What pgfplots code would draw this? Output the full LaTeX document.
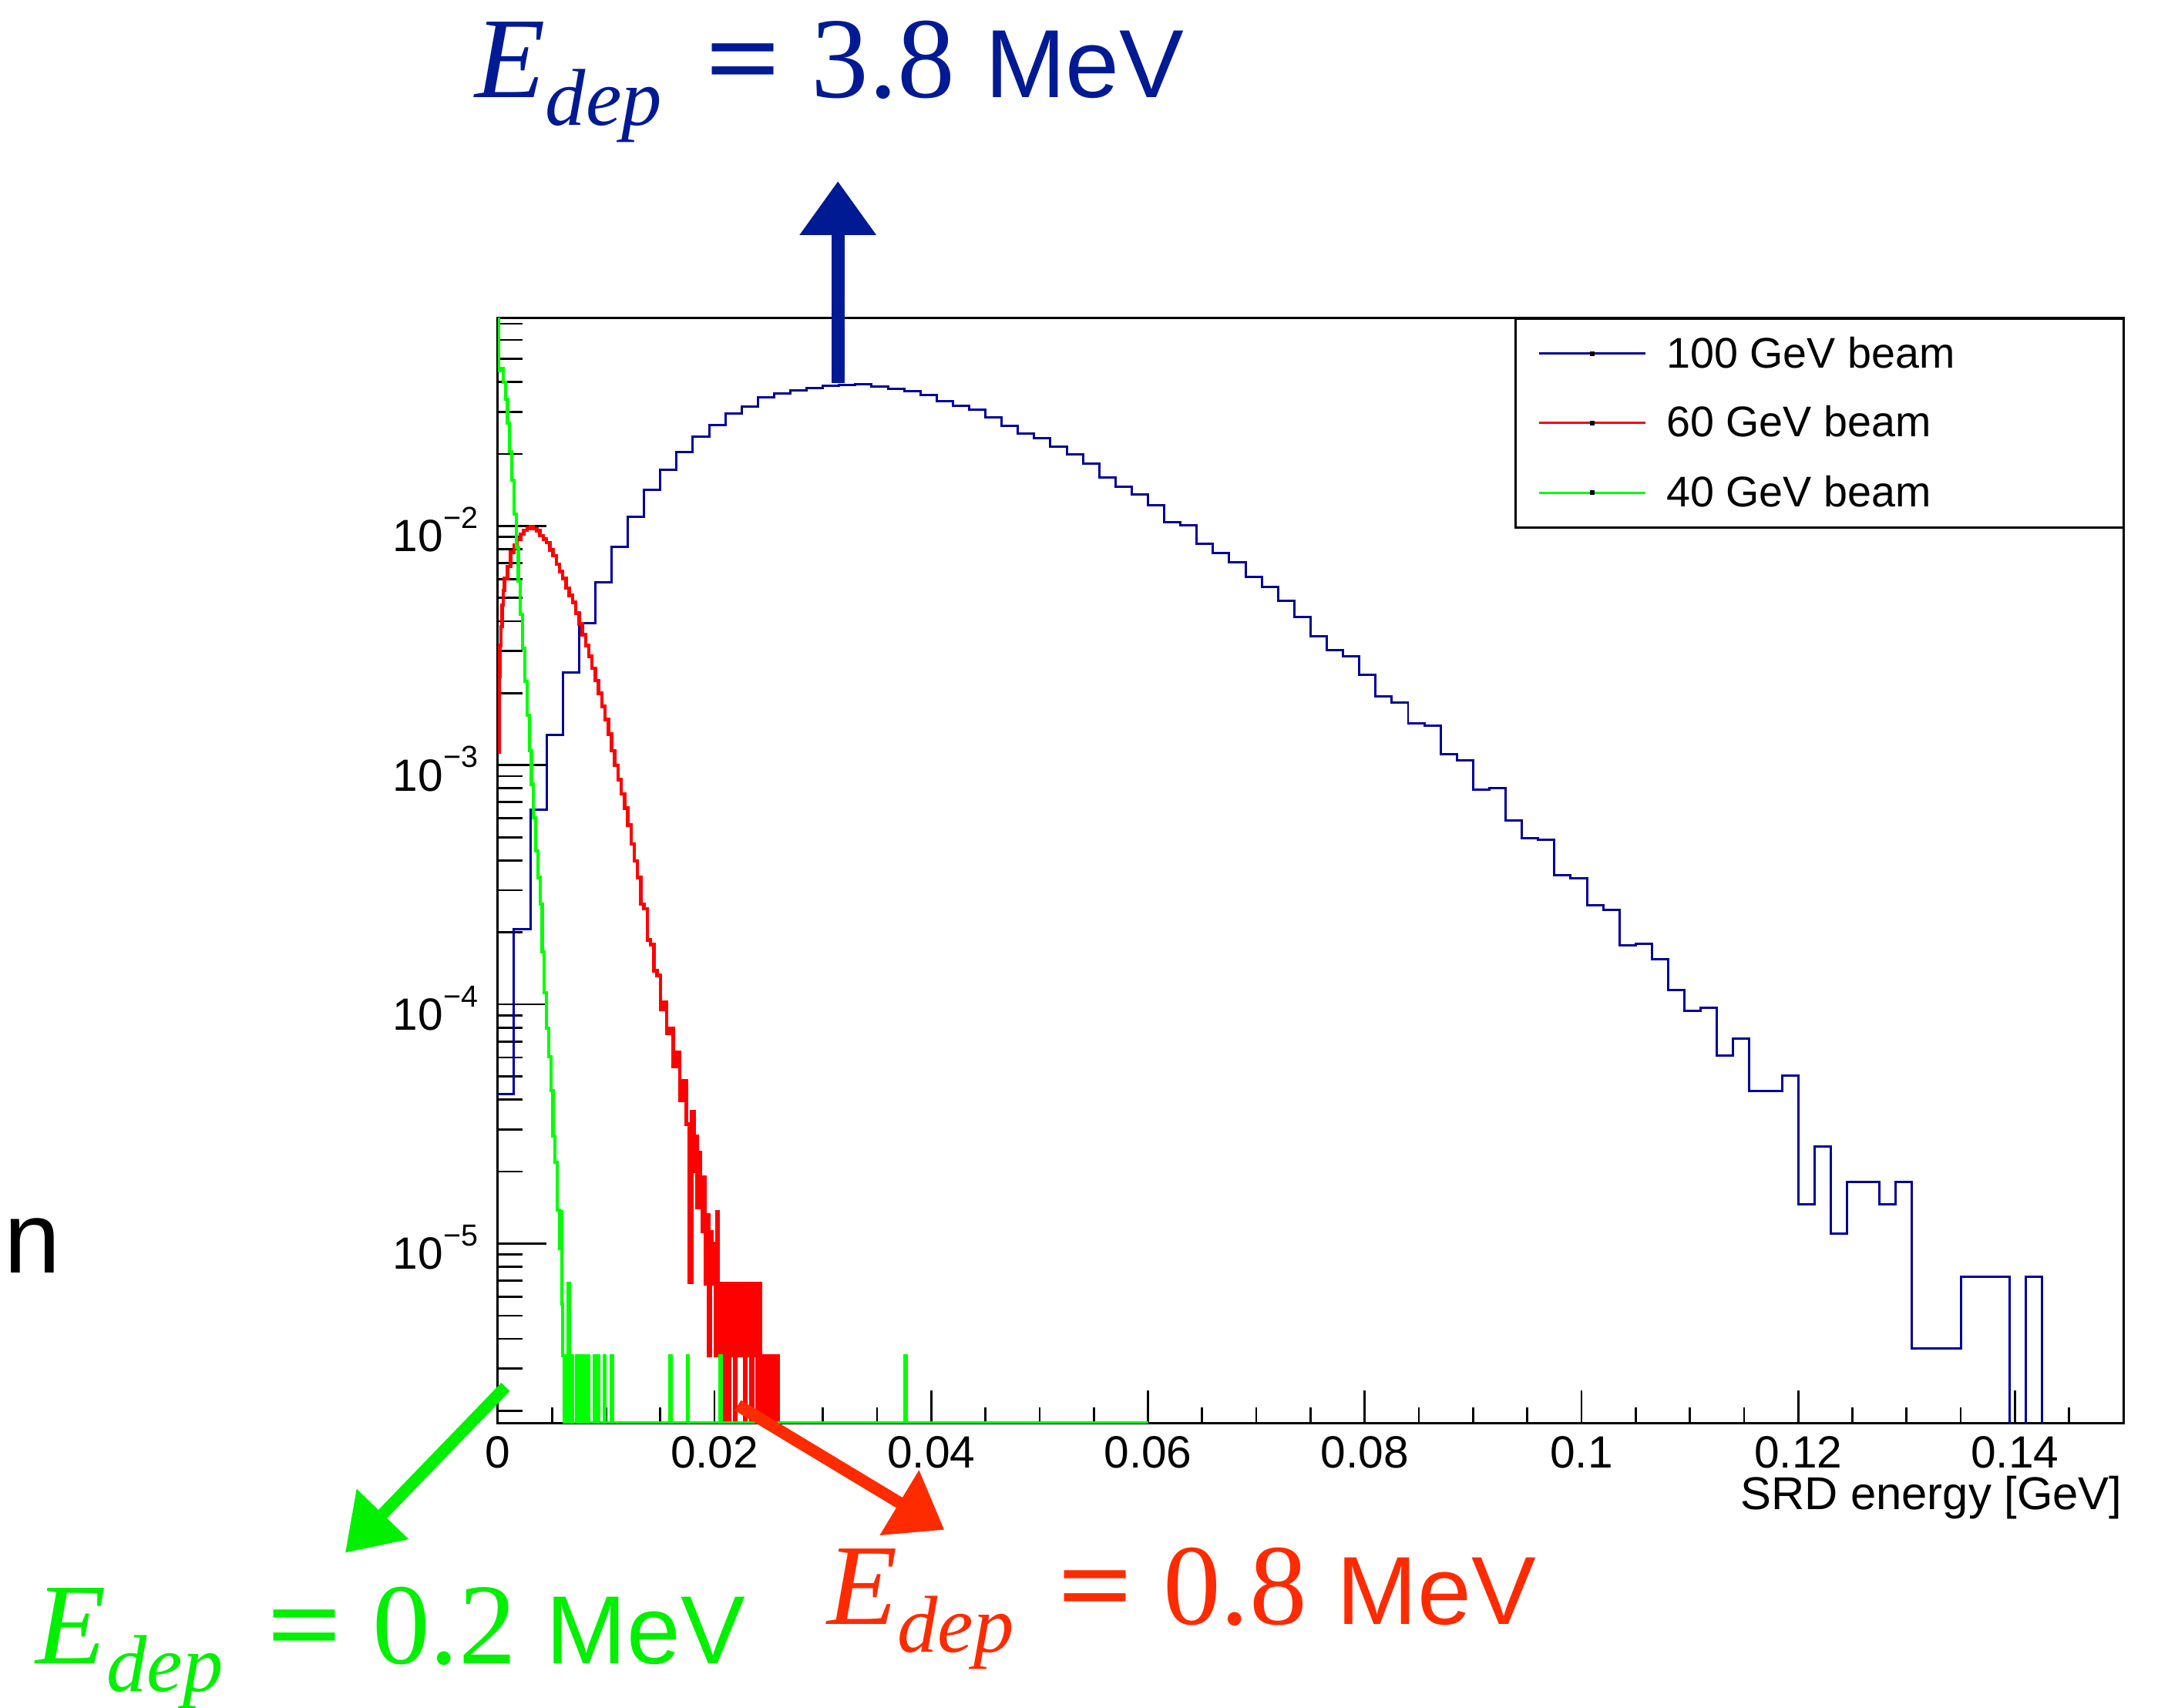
\documentclass[border=0pt]{standalone}
\usepackage{graphicx}
\usepackage{fontspec}
\setmainfont{Liberation Sans}
\newfontfamily\timesf{Liberation Serif}
\usepackage{pgfplots}
\pgfplotsset{compat=1.18}
\usetikzlibrary{arrows.meta}
\definecolor{hblue}{HTML}{000099}
\definecolor{hred}{HTML}{FF0000}
\definecolor{hgreen}{HTML}{00FF00}
\definecolor{ablue}{HTML}{001A94}
\definecolor{agreen}{HTML}{00F000}
\definecolor{ared}{HTML}{FF2B00}
\newcommand{\edep}[1]{%
{\timesf\fontsize{25}{25}\selectfont\itshape E}%
\raisebox{-6pt}{\timesf\fontsize{17.5}{17.5}\selectfont\itshape dep}%
\hspace{9.5pt}%
{\timesf\fontsize{25}{25}\selectfont\scalebox{1.15}[1]{\bfseries =}\hspace{6.5pt}#1}%
\hspace{6.5pt}%
{\fontsize{21}{21}\selectfont MeV}}
\newcommand{\tp}[1]{10\raisebox{5.1pt}{\fontsize{6.6}{7}\selectfont −#1}}
\begin{document}
\begin{tikzpicture}
\useasboundingbox (0,0) rectangle (470.4pt,370.5pt);
% frame and x ticks
\begin{axis}[
  scale only axis, width=352.7pt, height=239.7pt,
  at={(108pt,61.8pt)}, anchor=south west,
  xmin=0, xmax=0.15, ymode=log, ymin=1.78e-6, ymax=0.074,
  tick align=inside, tick pos=left,
  tick style={black, line width=0.45pt},
  axis line style={black, line width=0.5pt},
  xtick={0,0.02,0.04,0.06,0.08,0.1,0.12,0.14},
  xticklabels={0,0.02,0.04,0.06,0.08,0.1,0.12,0.14},
  minor xtick={0.005,0.01,0.015,0.025,0.03,0.035,0.045,0.05,0.055,0.065,0.07,0.075,0.085,0.09,0.095,0.105,0.11,0.115,0.125,0.13,0.135,0.145},
  major tick length=7pt, minor tick length=3.4pt,
  ytick=\empty,
  xticklabel style={font=\fontsize{9.8}{10}\selectfont, anchor=base, inner sep=0pt, yshift=-9.7pt},
]
\end{axis}
% y ticks and data
\begin{axis}[
  scale only axis, width=352.7pt, height=239.7pt,
  at={(108pt,61.8pt)}, anchor=south west,
  xmin=0, xmax=0.15, ymode=log, ymin=1.78e-6, ymax=0.074,
  tick align=inside, tick pos=left,
  tick style={black, line width=0.45pt},
  axis x line=none, axis y line*=left,
  axis line style={black, line width=0.5pt},
  xtick=\empty,
  ytick={1e-5,1e-4,1e-3,1e-2},
  yticklabels={\tp{5},\tp{4},\tp{3},\tp{2}},
  minor ytick={2e-6,3e-6,4e-6,5e-6,6e-6,7e-6,8e-6,9e-6,2e-5,3e-5,4e-5,5e-5,6e-5,7e-5,8e-5,9e-5,2e-4,3e-4,4e-4,5e-4,6e-4,7e-4,8e-4,9e-4,2e-3,3e-3,4e-3,5e-3,6e-3,7e-3,8e-3,9e-3,2e-2,3e-2,4e-2,5e-2,6e-2,7e-2},
  major tick length=10.5pt, minor tick length=5.3pt,
  yticklabel style={font=\fontsize{9.8}{10}\selectfont, anchor=base east, inner sep=0pt, xshift=-4.1pt, yshift=-5.6pt},
]
\addplot[const plot, hblue, line width=0.5pt, mark=none] coordinates {
(0,4.22e-5) (0.0015,2.06e-4) (0.003,6.52e-4) (0.0045,1.34e-3) (0.006,2.44e-3) (0.0075,3.91e-3) (0.009,5.82e-3) (0.0105,8.18e-3) (0.012,1.094e-2) (0.0135,1.419e-2) (0.015,1.718e-2) (0.0165,2.04e-2) (0.018,2.37e-2) (0.0195,2.65e-2) (0.021,2.96e-2) (0.0225,3.15e-2) (0.024,3.44e-2) (0.0255,3.57e-2) (0.027,3.68e-2) (0.0285,3.78e-2) (0.03,3.85e-2) (0.0315,3.88e-2) (0.033,3.91e-2) (0.0345,3.82e-2) (0.036,3.74e-2) (0.0375,3.66e-2) (0.039,3.54e-2) (0.0405,3.32e-2) (0.042,3.18e-2) (0.0435,3.06e-2) (0.045,2.84e-2) (0.0465,2.63e-2) (0.048,2.44e-2) (0.0495,2.32e-2) (0.051,2.14e-2) (0.0525,1.99e-2) (0.054,1.82e-2) (0.0555,1.60e-2) (0.057,1.46e-2) (0.0585,1.35e-2) (0.06,1.22e-2) (0.0615,1.04e-2) (0.063,1.005e-2) (0.0645,8.41e-3) (0.066,7.69e-3) (0.0675,7.06e-3) (0.069,6.11e-3) (0.0705,5.58e-3) (0.072,4.85e-3) (0.0735,4.16e-3) (0.075,3.45e-3) (0.0765,3.03e-3) (0.078,2.85e-3) (0.0795,2.38e-3) (0.081,1.94e-3) (0.0825,1.83e-3) (0.084,1.50e-3) (0.0855,1.46e-3) (0.087,1.11e-3) (0.0885,1.05e-3) (0.09,7.93e-4) (0.0915,8.0e-4) (0.093,5.87e-4) (0.0945,4.95e-4) (0.096,4.89e-4) (0.0975,3.47e-4) (0.099,3.36e-4) (0.1005,2.59e-4) (0.102,2.48e-4) (0.1035,1.76e-4) (0.105,1.79e-4) (0.1065,1.54e-4) (0.108,1.15e-4) (0.1095,9.4e-5) (0.111,9.7e-5) (0.1125,6.1e-5) (0.114,7.2e-5) (0.1155,4.34e-5) (0.117,4.34e-5) (0.1185,5.05e-5) (0.12,1.456e-5) (0.1215,2.55e-5) (0.123,1.10e-5) (0.1245,1.81e-5) (0.126,1.81e-5) (0.1275,1.456e-5) (0.129,1.81e-5) (0.1305,3.64e-6) (0.132,3.64e-6) (0.1335,3.64e-6) (0.135,7.28e-6) (0.1365,7.28e-6) (0.138,7.28e-6) (0.1395,1e-9) (0.141,7.28e-6) (0.1425,1e-9) (0.15,1e-9)
};
\addplot[const plot, hred, line width=0.75pt, mark=none] coordinates {
(0,1.135e-3) (0.0001,2.34e-3) (0.0002,3.16e-3) (0.0003,3.80e-3) (0.0004,4.68e-3) (0.0005,5.37e-3) (0.0006,6.03e-3) (0.0009,6.76e-3) (0.0012,7.76e-3) (0.0015,8.32e-3) (0.0018,8.81e-3) (0.0021,9.23e-3) (0.0024,9.59e-3) (0.0027,9.77e-3) (0.003,9.91e-3) (0.0033,9.72e-3) (0.0036,9.55e-3) (0.0039,9.12e-3) (0.0042,8.81e-3) (0.0045,8.51e-3) (0.0048,7.94e-3) (0.0051,7.50e-3) (0.0054,6.92e-3) (0.0057,6.46e-3) (0.006,6.03e-3) (0.0063,5.50e-3) (0.0066,5.13e-3) (0.0069,4.79e-3) (0.0072,4.32e-3) (0.0075,3.89e-3) (0.0078,3.51e-3) (0.0081,3.16e-3) (0.0084,2.85e-3) (0.0087,2.54e-3) (0.009,2.26e-3) (0.0093,2.00e-3) (0.0096,1.76e-3) (0.0099,1.55e-3) (0.0102,1.35e-3) (0.0105,1.15e-3) (0.0108,1.00e-3) (0.0111,8.71e-4) (0.0114,7.59e-4) (0.0117,6.61e-4) (0.012,5.62e-4) (0.0123,4.68e-4) (0.0126,3.98e-4) (0.0129,3.39e-4) (0.0132,2.63e-4) (0.0135,2.51e-4) (0.0138,1.86e-4) (0.0141,1.78e-4) (0.0144,1.38e-4) (0.0147,1.32e-4) (0.015,9.55e-5) (0.0153,1.02e-4) (0.0156,7.59e-5) (0.0159,7.94e-5) (0.0162,5.50e-5) (0.0165,6.31e-5) (0.0168,3.98e-5) (0.0171,4.79e-5) (0.0174,3.16e-5) (0.0177,6.9e-6) (0.0179,3.55e-5) (0.0181,2.0e-5) (0.01825,2.8e-5) (0.0184,1.41e-5) (0.01855,2.4e-5) (0.0187,1.66e-5) (0.01885,1.12e-5) (0.019,1.9e-5) (0.01915,6.8e-6) (0.0193,1.32e-5) (0.01945,3.4e-6) (0.0196,1.12e-5) (0.01975,6.8e-6) (0.0199,1.0e-5) (0.02005,3.4e-6) (0.0202,1.36e-5) (0.02035,6.8e-6) (0.0205,3.4e-6) (0.02065,6.8e-6) (0.0208,1e-9) (0.02095,6.8e-6) (0.0211,3.4e-6) (0.02125,1e-9) (0.0214,6.8e-6) (0.02155,3.4e-6) (0.0217,6.8e-6) (0.02185,1e-9) (0.022,6.8e-6) (0.02215,3.4e-6) (0.0223,6.8e-6) (0.02245,3.4e-6) (0.0226,6.8e-6) (0.02275,1e-9) (0.0229,6.8e-6) (0.02305,3.4e-6) (0.0232,6.8e-6) (0.02335,1e-9) (0.0235,3.4e-6) (0.02365,6.8e-6) (0.0238,3.4e-6) (0.02395,1e-9) (0.0241,6.8e-6) (0.02425,3.4e-6) (0.0244,1e-9) (0.02455,3.4e-6) (0.0247,1e-9) (0.0249,3.4e-6) (0.02505,1e-9) (0.0253,3.4e-6) (0.02545,1e-9) (0.02575,3.4e-6) (0.0259,1e-9) (0.06,1e-9)
};
\addplot[const plot, hgreen, line width=0.7pt, mark=none] coordinates {
(0,0.3) (0.0001,4.47e-2) (0.0003,4.57e-2) (0.0005,3.98e-2) (0.0007,3.39e-2) (0.0009,2.69e-2) (0.0011,2.04e-2) (0.0013,1.55e-2) (0.0015,1.12e-2) (0.0017,8.13e-3) (0.0019,5.89e-3) (0.0021,4.27e-3) (0.0023,3.09e-3) (0.0025,2.24e-3) (0.0027,1.62e-3) (0.0029,1.15e-3) (0.0031,8.32e-4) (0.0033,6.03e-4) (0.0035,4.37e-4) (0.0037,3.39e-4) (0.0039,2.63e-4) (0.0041,1.66e-4) (0.0043,1.12e-4) (0.0045,7.94e-5) (0.0047,6.03e-5) (0.0049,4.37e-5) (0.0051,2.82e-5) (0.0053,2.19e-5) (0.0055,1.38e-5) (0.0057,9.55e-6) (0.0058,1.36e-5) (0.0059,5.6e-6) (0.006,3.4e-6) (0.0061,1.78e-6) (0.0063,3.4e-6) (0.0064,1.78e-6) (0.0065,6.8e-6) (0.0066,1.78e-6) (0.0068,3.4e-6) (0.0069,1.78e-6) (0.0073,3.4e-6) (0.0074,1.78e-6) (0.0076,3.4e-6) (0.0077,1.78e-6) (0.0078,3.4e-6) (0.0079,1.78e-6) (0.0081,3.4e-6) (0.0082,1.78e-6) (0.0083,3.4e-6) (0.0084,1.78e-6) (0.0089,3.4e-6) (0.009,1.78e-6) (0.0092,3.4e-6) (0.0093,1.78e-6) (0.0098,3.4e-6) (0.0099,1.78e-6) (0.0105,3.4e-6) (0.0106,1.78e-6) (0.0159,3.4e-6) (0.016,1.78e-6) (0.0175,3.4e-6) (0.0176,1.78e-6) (0.0205,3.4e-6) (0.0206,1.78e-6) (0.0376,3.4e-6) (0.0377,1.78e-6) (0.06,1.78e-6)
};
\end{axis}
% x label
\node[anchor=base east, inner sep=0pt, font=\fontsize{10}{12}\selectfont] at (460.65pt,43pt) {SRD energy [GeV]};
% legend
\draw[black, line width=0.45pt, fill=white] (328.8pt,256pt) rectangle (460.7pt,301.4pt);
\draw[hblue, line width=0.5pt] (333.9pt,293.8pt) -- (357pt,293.8pt);
\draw[hred, line width=0.5pt] (333.9pt,278.7pt) -- (357pt,278.7pt);
\draw[hgreen, line width=0.5pt] (333.9pt,263.6pt) -- (357pt,263.6pt);
\fill[black] (345.0pt,293.3pt) rectangle (345.9pt,294.3pt);
\fill[black] (345.0pt,278.2pt) rectangle (345.9pt,279.2pt);
\fill[black] (345.0pt,263.1pt) rectangle (345.9pt,264.1pt);
\node[anchor=base west, inner sep=0pt, font=\fontsize{9.3}{11}\selectfont] at (361.4pt,290.7pt) {100 GeV beam};
\node[anchor=base west, inner sep=0pt, font=\fontsize{9.3}{11}\selectfont] at (361.4pt,275.7pt) {60 GeV beam};
\node[anchor=base west, inner sep=0pt, font=\fontsize{9.3}{11}\selectfont] at (361.4pt,260.6pt) {40 GeV beam};
% cut-off axis title
\node[anchor=base west, inner sep=0pt, font=\fontsize{22}{22}\selectfont] at (0.8pt,94.3pt) {n};
% annotations
\draw[ablue, line width=2.8pt, -{Triangle[length=11.7pt,width=15.9pt]}] (181.8pt,287.4pt) -- (181.8pt,331.2pt);
\draw[agreen, line width=2.6pt, -{Triangle[length=11.7pt,width=15pt]}] (109.7pt,69.6pt) -- (74.9pt,33.6pt);
\draw[ared, line width=2.6pt, -{Triangle[length=11.4pt,width=15.8pt]}] (160.1pt,65.6pt) -- (204.9pt,38.6pt);
\node[anchor=base west, inner sep=0pt, text=ablue] at (102.9pt,349.3pt) {\edep{3.8}};
\node[anchor=base west, inner sep=0pt, text=agreen] at (7.65pt,9.6pt) {\edep{0.2}};
\node[anchor=base west, inner sep=0pt, text=ared] at (179.25pt,18pt) {\edep{0.8}};
\end{tikzpicture}
\end{document}
